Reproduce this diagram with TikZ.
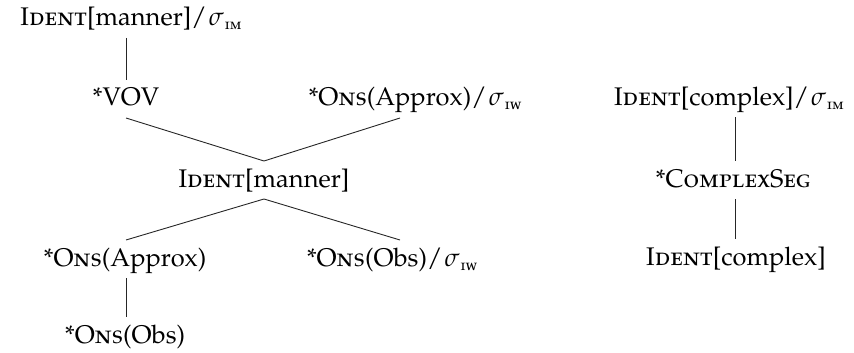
\documentclass[tikz,border=0pt]{standalone}
\usepackage[T1]{fontenc}
\usepackage[sc]{mathpazo}
% syllable-position subscript in small capitals
\newcommand{\sylsub}[1]{\kern1pt\raisebox{-4pt}{\fontsize{15}{15}\selectfont\textsc{#1}}}
% slash followed by a syllable symbol
\newcommand{\slsig}{/\kern2pt$\sigma$}
\tikzset{
  lbl/.style={anchor=base, inner sep=0pt, outer sep=6pt,
    text height=20pt, text depth=6pt,
    font=\fontsize{25.5}{30}\selectfont},
  edge/.style={line width=0.9pt, black!85}
}
\begin{document}
\begin{tikzpicture}[x=1pt,y=-1pt]
\useasboundingbox (0,0) rectangle (854,353);

% ranking of the manner constraints
\node[lbl] (t0)     at (131,26)  {\textsc{Ident}[manner]\slsig\sylsub{im}};
\node[lbl] (vov)    at (126,106) {*VOV};
\node[lbl] (onsA)   at (415,106) {*\textsc{Ons}(Approx)\slsig\sylsub{iw}};
\node[lbl] (im)     at (264,187) {\textsc{Ident}[manner]};
\node[lbl] (onsAp)  at (125,266) {*\textsc{Ons}(Approx)};
\node[lbl] (onsObW) at (392,266) {*\textsc{Ons}(Obs)\slsig\sylsub{iw}};
\node[lbl] (onsOb)  at (125,343) {*\textsc{Ons}(Obs)};

% ranking of the complexity constraints
\node[lbl] (icx)  at (729,105) {\textsc{Ident}[complex]\slsig\sylsub{im}};
\node[lbl] (cseg) at (733,187) {*\textsc{ComplexSeg}};
\node[lbl] (ic)   at (736,265) {\textsc{Ident}[complex]};

% columns the connectors run along
\coordinate (colL) at (126,0);
\coordinate (colM) at (264,0);
\coordinate (colR) at (400,0);
\coordinate (colX) at (735,0);

\draw[edge] (t0.south -| colL) -- (vov.north -| colL);
\draw[edge] (vov.south -| colL) -- (im.north -| colM) -- (onsA.south -| colR);
\draw[edge] (onsAp.north -| colL) -- (im.south -| colM) -- (onsObW.north -| colR);
\draw[edge] (onsAp.south -| colL) -- (onsOb.north -| colL);
\draw[edge] (icx.south -| colX) -- (cseg.north -| colX);
\draw[edge] (cseg.south -| colX) -- (ic.north -| colX);
\end{tikzpicture}
\end{document}
